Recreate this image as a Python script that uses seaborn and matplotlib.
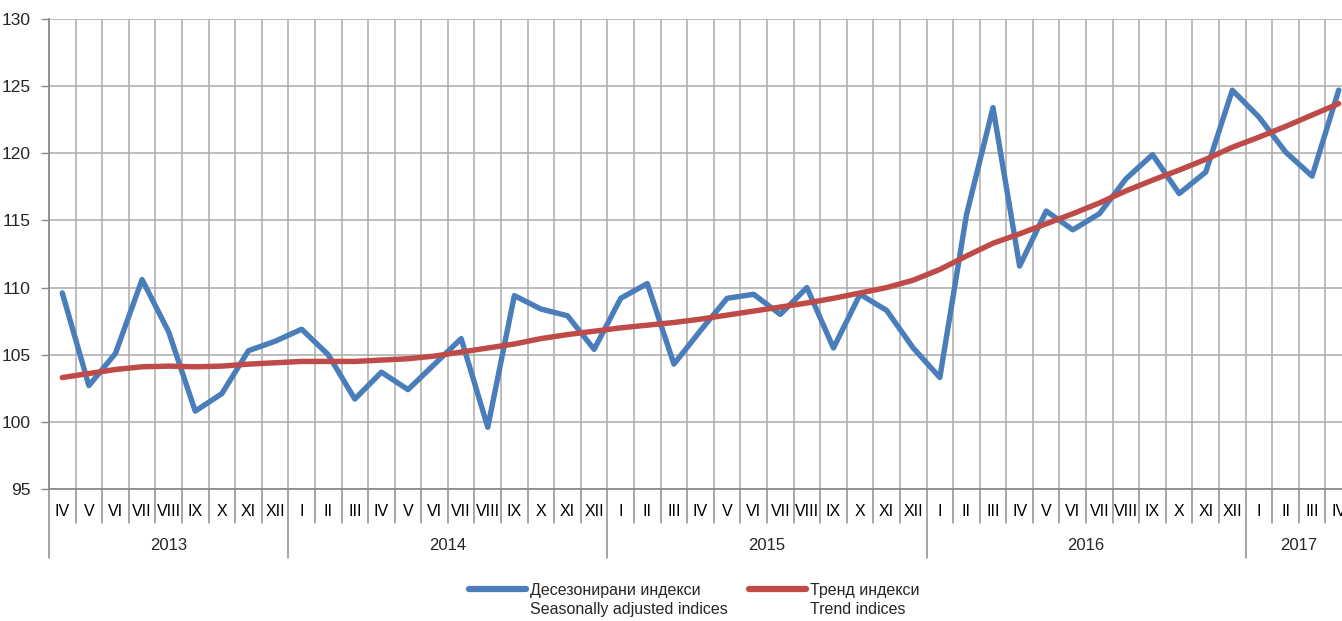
import numpy as np
import pandas as pd
import matplotlib
matplotlib.use("Agg")
import matplotlib.pyplot as plt
import matplotlib.transforms as mtransforms
from matplotlib.lines import Line2D
import seaborn as sns

# ---------------- data ----------------
months = ["IV", "V", "VI", "VII", "VIII", "IX", "X", "XI", "XII",
          "I", "II", "III", "IV", "V", "VI", "VII", "VIII", "IX", "X", "XI", "XII",
          "I", "II", "III", "IV", "V", "VI", "VII", "VIII", "IX", "X", "XI", "XII",
          "I", "II", "III", "IV", "V", "VI", "VII", "VIII", "IX", "X", "XI", "XII",
          "I", "II", "III", "IV"]
years = ["2013", "2014", "2015", "2016", "2017"]
year_counts = [9, 12, 12, 12, 4]

seasonally_adjusted = [109.6, 102.7, 105.1, 110.6, 106.7, 100.8, 102.1, 105.3, 106.0,
                       106.9, 105.0, 101.7, 103.7, 102.4, 104.3, 106.2, 99.6, 109.4, 108.4, 107.9, 105.4,
                       109.2, 110.3, 104.3, 106.8, 109.2, 109.5, 108.0, 110.0, 105.5, 109.5, 108.3, 105.5,
                       103.3, 115.4, 123.4, 111.6, 115.7, 114.3, 115.5, 118.1, 119.9, 117.0, 118.6, 124.7,
                       122.7, 120.1, 118.3, 124.7]
trend = [103.3, 103.6, 103.9, 104.1, 104.15, 104.1, 104.15, 104.3, 104.4,
         104.5, 104.5, 104.5, 104.6, 104.7, 104.9, 105.2, 105.5, 105.8, 106.2, 106.5, 106.75,
         107.0, 107.2, 107.4, 107.65, 107.95, 108.25, 108.55, 108.85, 109.2, 109.6, 110.0, 110.55,
         111.35, 112.35, 113.3, 114.0, 114.75, 115.5, 116.3, 117.2, 118.0, 118.75, 119.55, 120.45,
         121.2, 122.0, 122.85, 123.7]

label_sa = "Десезонирани индекси"
label_sa_en = "Seasonally adjusted indices"
label_tr = "Тренд индекси"
label_tr_en = "Trend indices"

# ---------------- style ----------------
sns.set_theme(style="white")
plt.rcParams["font.family"] = ["Liberation Sans", "DejaVu Sans"]

BLUE = "#4A7EBB"
RED = "#BE4B48"
GRID = "#ABABAB"
AXIS = "#8C8C8C"
FS = 11.5

df = pd.DataFrame({
    "idx": np.arange(len(months)),
    label_sa: seasonally_adjusted,
    label_tr: trend,
})
long = df.melt(id_vars="idx", var_name="series", value_name="value")

W, H = 1342, 621
fig = plt.figure(figsize=(W / 100, H / 100), dpi=100)
ax = fig.add_axes([49 / W, (H - 489) / H, 1303 / W, 470 / H])

sns.lineplot(data=long, x="idx", y="value", hue="series",
             hue_order=[label_sa, label_tr],
             palette=[BLUE, RED], linewidth=3.9, ax=ax, legend=False,
             sort=False, estimator=None)
for ln in ax.get_lines():
    ln.set_solid_joinstyle("round")
    ln.set_solid_capstyle("round")
    ln.set_zorder(3)

n = len(months)
ax.set_xlim(-0.5, n - 0.5)
ax.set_ylim(95, 130)
ax.set_yticks(np.arange(95, 131, 5))
ax.set_xticks(np.arange(n))
ax.set_xticklabels(months, fontsize=FS)
ax.set_xticks(np.arange(-0.5, n, 1), minor=True)
ax.tick_params(axis="x", which="both", length=0, pad=11, colors="black")
ax.tick_params(axis="y", length=6, width=1, color=AXIS, labelsize=12.5, pad=7, direction="out",
               left=True)
ax.set_xlabel("")
ax.set_ylabel("")

ax.grid(False)
ax.grid(which="minor", axis="x", color=GRID, linewidth=1.1, zorder=0)
ax.grid(which="major", axis="y", color=GRID, linewidth=1.1, zorder=0)
for s in ["top", "right"]:
    ax.spines[s].set_visible(False)
for s in ["left", "bottom"]:
    ax.spines[s].set_color(AXIS)
    ax.spines[s].set_linewidth(1.3)

# category separators below axis (multi-level axis)
trans = mtransforms.blended_transform_factory(ax.transData, ax.transAxes)
year_starts = np.concatenate([[0], np.cumsum(year_counts)])
for k in range(n + 1):
    depth = -0.147 if k in year_starts else -0.072
    ax.plot([k - 0.5, k - 0.5], [0, depth], transform=trans, color=AXIS,
            linewidth=1.1, clip_on=False)
for i, y in enumerate(years):
    c = (year_starts[i] + year_starts[i + 1] - 1) / 2
    ax.text(c, -0.121, y, transform=trans, ha="center", va="center", fontsize=FS + 0.5)

# legend (two-line labels, handle at first line)
handles = [Line2D([], [], color=BLUE, linewidth=4.5, solid_capstyle="round"),
           Line2D([], [], color="none"),
           Line2D([], [], color=RED, linewidth=4.5, solid_capstyle="round"),
           Line2D([], [], color="none")]
labels = [label_sa, label_sa_en, label_tr, label_tr_en]
fig.legend(handles, labels, ncol=2, loc="center", bbox_to_anchor=(694 / W, 1 - 600 / H),
           frameon=False, fontsize=FS, handlelength=3.6, handletextpad=0.2,
           columnspacing=1.35, labelspacing=0.3, borderpad=0)

fig.savefig("out.png", dpi=100)
